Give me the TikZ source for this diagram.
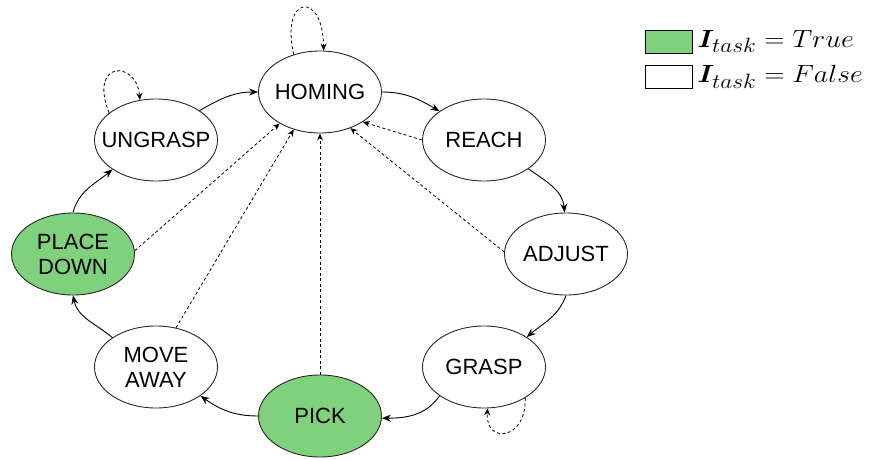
\documentclass[tikz,border=0pt]{standalone}
\usepackage{fontspec}
\setmainfont{Liberation Sans}
\usepackage{bm}
\usepackage{graphicx}
\usetikzlibrary{arrows.meta,shapes.geometric}
\definecolor{stategreen}{RGB}{128,209,125}
\definecolor{edgegray}{RGB}{40,40,40}
\tikzset{
  state/.style={ellipse, draw=edgegray, line width=0.9pt, fill=white,
    minimum width=123pt, minimum height=82pt, inner xsep=-12pt, inner ysep=0pt,
    align=center, font=\fontsize{22}{25}\selectfont},
  active/.style={state, fill=stategreen},
  flow/.style={line width=0.9pt, -{Stealth[length=9pt,width=7pt]}},
  back/.style={line width=0.8pt, dash pattern=on 3pt off 2.5pt, -{Stealth[length=7pt,width=6pt]}},
  legendbox/.style={draw=black, line width=0.9pt, minimum width=47pt, minimum height=23pt, inner sep=0pt},
  legendtext/.style={anchor=west, inner sep=0pt, font=\fontsize{27.5}{30}\selectfont}
}
\newcommand{\legendlabel}[1]{\scalebox{1.13}[1]{$\bm{I}_{task} = #1$}}
\begin{document}
\begin{tikzpicture}[x=1pt,y=1pt]
\useasboundingbox (0,0) rectangle (871,459);

% states
\node[state]  (homing)  at (320,367) {HOMING};
\node[state]  (reach)   at (484,319) {REACH};
\node[state]  (adjust)  at (566,205) {ADJUST};
\node[state]  (grasp)   at (484,92)  {GRASP};
\node[active] (pick)    at (320,43)  {PICK};
\node[state]  (moveaway) at (156,92) {MOVE\\AWAY};
\node[active] (placedown) at (73,205) {PLACE\\DOWN};
\node[state]  (ungrasp) at (156,319) {UNGRASP};

% main cycle
\draw[flow] (homing.0) to[out=0,in=150] (reach.147);
\draw[flow] (reach.-33) to[out=-35,in=95] (adjust.92);
\draw[flow] (adjust.-90) to[out=-110,in=40] (grasp.35);
\draw[flow] (grasp.213) to[out=235,in=0] (pick.-2);
\draw[flow] (pick.180) to[out=180,in=-35] (moveaway.-33);
\draw[flow] (moveaway.146) to[out=140,in=-78] (placedown.-90);
\draw[flow] (placedown.90) to[out=75,in=220] (ungrasp.214);
\draw[flow] (ungrasp.34) to[out=30,in=180] (homing.180);

% returns to homing
\draw[back] (reach.180) -- (homing.-35);
\draw[back] (adjust.178) -- (homing.-50);
\draw[back] (pick.north) -- (homing.south);
\draw[back] (moveaway.63) -- (homing.235);
\draw[back] (placedown.3) -- (homing.218);

% self loops
\draw[back] (homing.125) .. controls (280,464) and (323,469) .. (homing.85);
\draw[back] (ungrasp.150) .. controls (88,399) and (137,399) .. (ungrasp.112);
\draw[back] (grasp.-37) .. controls (527,19) and (485,14) .. (grasp.-85);

% legend
\node[legendbox, fill=stategreen] (ltrue) at (668.5,417.5) {};
\node[legendbox, fill=white] (lfalse) at (668.5,382.5) {};
\node[legendtext] (ttrue) at ([xshift=5pt]ltrue.east) {\legendlabel{True}};
\node[legendtext] (tfalse) at ([xshift=5pt]lfalse.east) {\legendlabel{False}};
\end{tikzpicture}
\end{document}
